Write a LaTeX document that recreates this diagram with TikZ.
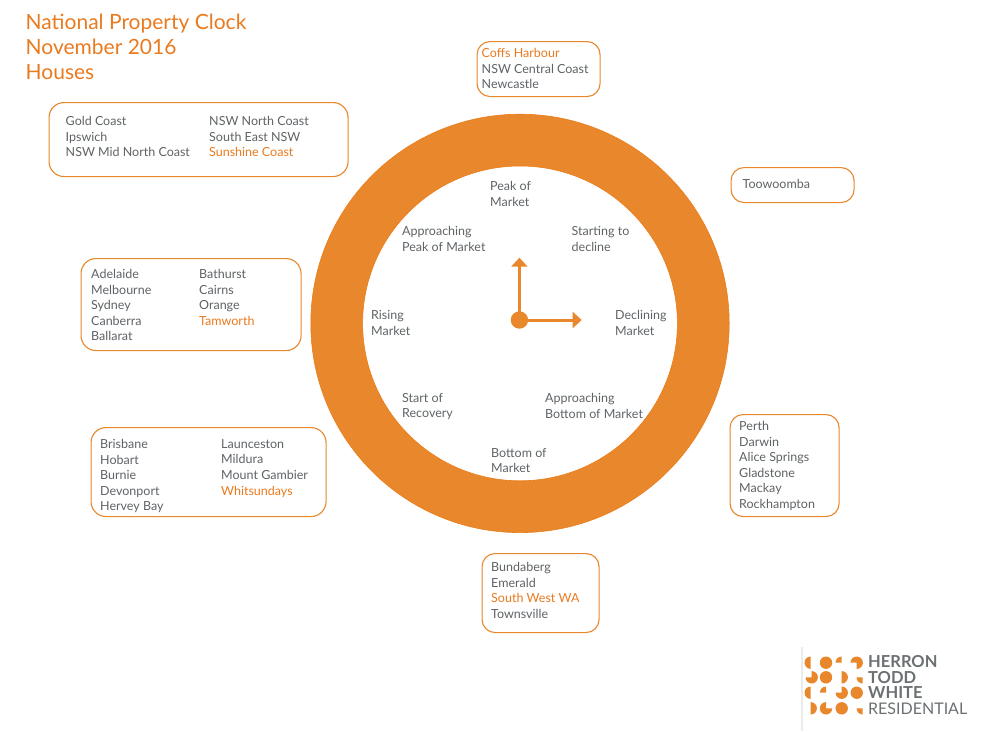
\documentclass[tikz,border=0pt]{standalone}
\usepackage{fontspec}
\setmainfont{Lato}
\definecolor{ring}{HTML}{E8872B}
\definecolor{ringedge}{HTML}{EC7D1A}
\definecolor{ttl}{HTML}{EA7A1E}
\definecolor{txt}{HTML}{5E6366}
\definecolor{logot}{HTML}{6B7072}
\newcommand{\hl}[1]{\textcolor{ttl}{#1}}
\newcommand{\qdisc}[4]{\fill[ring] (#1,#2) -- ++(#3:6.2) arc[start angle=#3,end angle=#4,radius=6.2] -- cycle;}
\usetikzlibrary{arrows.meta}
\tikzset{
 box/.style={draw=ring,line width=1.1pt,rounded corners=#1,fill=white},
 box/.default=13pt,
 lbl/.style={inner sep=0pt,anchor=north west,align=left,text=txt,yshift=-0.6pt,font=\fontsize{12.5}{15.6}\selectfont},
 ctr/.style={lbl},
 title/.style={inner sep=0pt,anchor=north west,align=left,text=ttl,font=\fontsize{21}{25}\selectfont},
 logob/.style={inner sep=0pt,anchor=base west,text=logot,font=\fontsize{16.5}{16}\selectfont\bfseries},
 logol/.style={inner sep=0pt,anchor=base west,text=logot,font=\fontsize{16}{16}\selectfont},
 hand/.style={draw=ring,line width=3pt,-{Triangle[length=9pt,width=16pt]}},
}
\begin{document}
\begin{tikzpicture}[x=1pt,y=-1pt]
\useasboundingbox (0,0) rectangle (1000,731);
% ring
\filldraw[fill=ring,draw=ringedge,line width=0.6pt,even odd rule] (520,323.4) circle[radius=209.2] (520,323.4) circle[radius=157.4];
% hands
\node[circle,fill=ring,minimum size=17.4pt,inner sep=0pt] (hub) at (519.4,320) {};
\coordinate (up) at (519.4,257.7);
\coordinate (right) at (581.7,320);
\draw[hand] (hub.center) -- (up);
\draw[hand] (hub.center) -- (right);
% title
\node[title] (t) at (25.5,13.5) {National Property Clock\\November 2016\\Houses};
% boxes
\node[box,minimum width=123pt,minimum height=55pt,anchor=north west] (b1) at (476.5,41) {};
\node[box=15pt,minimum width=299pt,minimum height=74pt,anchor=north west] (b2) at (48.5,102) {};
\node[box,minimum width=123pt,minimum height=35pt,anchor=north west] (b3) at (730.5,167) {};
\node[box=15pt,minimum width=220pt,minimum height=92pt,anchor=north west] (b4) at (80.5,258) {};
\node[box=15pt,minimum width=235pt,minimum height=89pt,anchor=north west] (b5) at (90.5,427) {};
\node[box,minimum width=109pt,minimum height=102pt,anchor=north west] (b6) at (729.5,414) {};
\node[box,minimum width=117pt,minimum height=79pt,anchor=north west] (b7) at (481.5,553) {};
% box text
\node[lbl] (l1) at (481.5,47.5) {\hl{Coffs Harbour}\\NSW Central Coast\\Newcastle};
\node[lbl] (l2a) at (65.5,115.5) {Gold Coast\\Ipswich\\NSW Mid North Coast};
\node[lbl] (l2b) at (209,115.5) {NSW North Coast\\South East NSW\\\hl{Sunshine Coast}};
\node[lbl] (l3) at (742.5,178.5) {Toowoomba};
\node[lbl] (l4a) at (91,268.5) {Adelaide\\Melbourne\\Sydney\\Canberra\\Ballarat};
\node[lbl] (l4b) at (199,268.5) {Bathurst\\Cairns\\Orange\\\hl{Tamworth}};
\node[lbl] (l5a) at (100,438.5) {Brisbane\\Hobart\\Burnie\\Devonport\\Hervey Bay};
\node[lbl] (l5b) at (221,438.5) {Launceston\\Mildura\\Mount Gambier\\\hl{Whitsundays}};
\node[lbl] (l6) at (739,420.5) {Perth\\Darwin\\Alice Springs\\Gladstone\\Mackay\\Rockhampton};
\node[lbl] (l7) at (491,561.5) {Bundaberg\\Emerald\\\hl{South West WA}\\Townsville};
% clock labels
\node[ctr] (c1) at (490,180.5) {Peak of\\Market};
\node[ctr] (c2) at (571.5,225.5) {Starting to\\decline};
\node[ctr] (c3) at (615,309.5) {Declining\\Market};
\node[ctr] (c4) at (545,392.5) {Approaching\\Bottom of Market};
\node[ctr] (c5) at (491,447.5) {Bottom of\\Market};
\node[ctr] (c6) at (402,392.5) {Start of\\Recovery};
\node[ctr] (c7) at (371,309.5) {Rising\\Market};
\node[ctr] (c8) at (402,225.5) {Approaching\\Peak of Market};
% logo
\draw[black!8,line width=1.2pt] (802,647) -- (802,731);
\qdisc{810.7}{662.7}{90}{270}
\fill[ring] (826,662.7) circle[radius=6.2];
\qdisc{841.7}{662.7}{180}{270}
\qdisc{856.7}{662.7}{180}{450}
\qdisc{811.7}{677.3}{270}{540}
\fill[ring] (826,677.3) circle[radius=6.2];
\qdisc{841.7}{677.3}{-90}{90}
\qdisc{862.7}{677.3}{90}{180}
\qdisc{810.7}{692.7}{90}{270}
\qdisc{826}{692.7}{180}{270}
\qdisc{841.7}{692.7}{270}{540}
\fill[ring] (856.7,692.7) circle[radius=6.2];
\qdisc{810.7}{708.3}{-90}{90}
\qdisc{826}{708.3}{0}{270}
\fill[ring] (841.7,708.3) circle[radius=6.2];
\qdisc{862.7}{708.3}{90}{180}
\node[logob] (h1) at (868,667) {HERRON};
\node[logob] (h2) at (868,683) {TODD};
\node[logob] (h3) at (868,698.5) {WHITE};
\node[logol] (h4) at (868,714) {RESIDENTIAL};
\end{tikzpicture}
\end{document}
